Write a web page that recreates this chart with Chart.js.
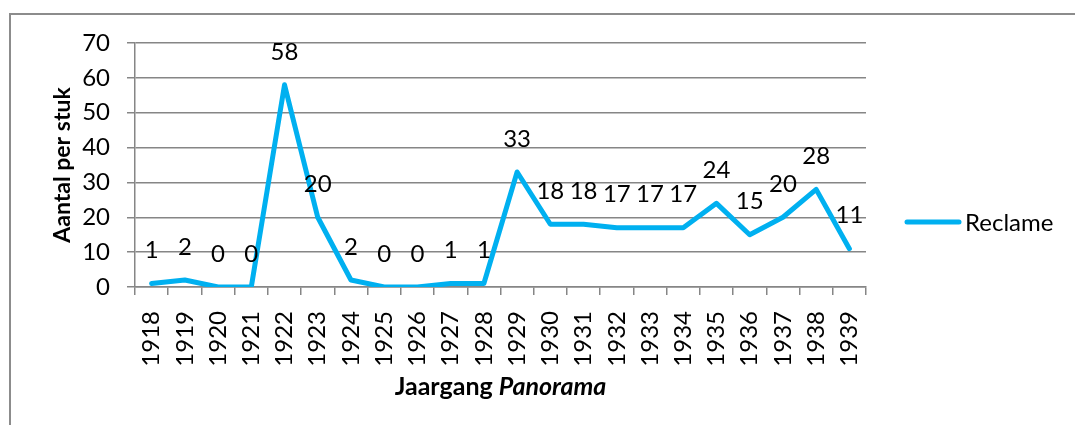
<!DOCTYPE html>
<html>
<head>
<meta charset="utf-8">
<script src="https://cdn.jsdelivr.net/npm/chart.js@4.4.1/dist/chart.umd.min.js"></script>
<style>
  html, body { margin: 0; padding: 0; background: #fff; }
  canvas { display: block; }
</style>
</head>
<body>
<canvas id="reclameChart" width="1075" height="425"></canvas>
<script>
// jaargangen Panorama
const years = ['1918', '1919', '1920', '1921', '1922', '1923', '1924', '1925', '1926', '1927', '1928',
    '1929', '1930', '1931', '1932', '1933', '1934', '1935', '1936', '1937', '1938', '1939'];
// aantal reclames per jaargang
const reclame = [1, 2, 0, 0, 58, 20, 2, 0, 0, 1, 1, 33, 18, 18, 17, 17, 17, 24, 15, 20, 28, 11];
const yTicks = [0, 10, 20, 30, 40, 50, 60, 70];

const FONT = 'Lato, "Open Sans", sans-serif';
const GRID = '#868686';
const BLUE = '#00B0F0';

// labels boven de punten, assentitels, legenda en kader
const extras = {
    id: 'extras',
    beforeDraw(chart) {
        const ctx = chart.ctx;
        ctx.save();
        ctx.strokeStyle = '#8c8c8c';
        ctx.lineWidth = 2;
        ctx.beginPath();
        ctx.moveTo(9, 14);
        ctx.lineTo(1075, 14);
        ctx.moveTo(10, 13);
        ctx.lineTo(10, 425);
        ctx.stroke();
        ctx.restore();
    },
    afterDatasetsDraw(chart) {
        const ctx = chart.ctx;
        const meta = chart.getDatasetMeta(0);
        ctx.save();
        ctx.font = '24px ' + FONT;
        ctx.fillStyle = '#000';
        ctx.textAlign = 'center';
        ctx.textBaseline = 'middle';
        meta.data.forEach((pt, i) => {
            ctx.fillText(String(reclame[i]), pt.x, pt.y - 33);
        });
        ctx.restore();
    },
    afterDraw(chart) {
        const ctx = chart.ctx;
        const area = chart.chartArea;
        ctx.save();
        ctx.fillStyle = '#000';
        ctx.textBaseline = 'middle';

        // y-as titel
        ctx.save();
        ctx.translate(63, (area.top + area.bottom) / 2);
        ctx.rotate(-Math.PI / 2);
        ctx.textAlign = 'center';
        ctx.font = 'bold 23px ' + FONT;
        ctx.fillText('Aantal per stuk', 0, 0);
        ctx.restore();

        // x-as titel, Panorama cursief
        const part1 = 'Jaargang ';
        const part2 = 'Panorama';
        ctx.font = 'bold 25px ' + FONT;
        const w1 = ctx.measureText(part1).width;
        ctx.font = 'italic bold 25px ' + FONT;
        const w2 = ctx.measureText(part2).width;
        let x = (area.left + area.right) / 2 - (w1 + w2) / 2;
        ctx.textAlign = 'left';
        ctx.font = 'bold 25px ' + FONT;
        ctx.fillText(part1, x, 387);
        ctx.font = 'italic bold 25px ' + FONT;
        ctx.fillText(part2, x + w1, 387);

        // legenda
        ctx.strokeStyle = BLUE;
        ctx.lineWidth = 5;
        ctx.lineCap = 'round';
        ctx.beginPath();
        ctx.moveTo(907, 222);
        ctx.lineTo(959, 222);
        ctx.stroke();
        ctx.font = '24px ' + FONT;
        ctx.fillText('Reclame', 965, 223);
        ctx.restore();
    }
};

new Chart(document.getElementById('reclameChart'), {
    type: 'line',
    data: {
        labels: years,
        datasets: [{
            label: 'Reclame',
            data: reclame,
            borderColor: BLUE,
            backgroundColor: BLUE,
            borderWidth: 5,
            borderJoinStyle: 'round',
            borderCapStyle: 'round',
            pointRadius: 0,
            tension: 0
        }]
    },
    options: {
        responsive: false,
        animation: false,
        layout: { padding: { left: 0, right: 209, top: 43, bottom: 0 } },
        plugins: {
            legend: { display: false },
            tooltip: { enabled: false }
        },
        scales: {
            x: {
                offset: true,
                grid: {
                    offset: true,
                    drawOnChartArea: false,
                    drawTicks: true,
                    tickLength: 8,
                    color: GRID,
                    lineWidth: 1.5
                },
                border: { color: GRID, width: 1.5 },
                ticks: {
                    minRotation: 90,
                    maxRotation: 90,
                    autoSkip: false,
                    padding: 16,
                    color: '#000',
                    font: { family: FONT, size: 24 }
                },
                afterFit(scale) { scale.height = 425 - 287; }
            },
            y: {
                min: 0,
                max: 70,
                afterBuildTicks(scale) { scale.ticks = yTicks.map(v => ({ value: v })); },
                grid: {
                    drawTicks: true,
                    tickLength: 8,
                    color: GRID,
                    lineWidth: 1.5
                },
                border: { color: GRID, width: 1.5 },
                ticks: {
                    padding: 17,
                    color: '#000',
                    font: { family: FONT, size: 24 }
                },
                afterFit(scale) { scale.width = 135; }
            }
        }
    },
    plugins: [extras]
});
</script>
</body>
</html>
